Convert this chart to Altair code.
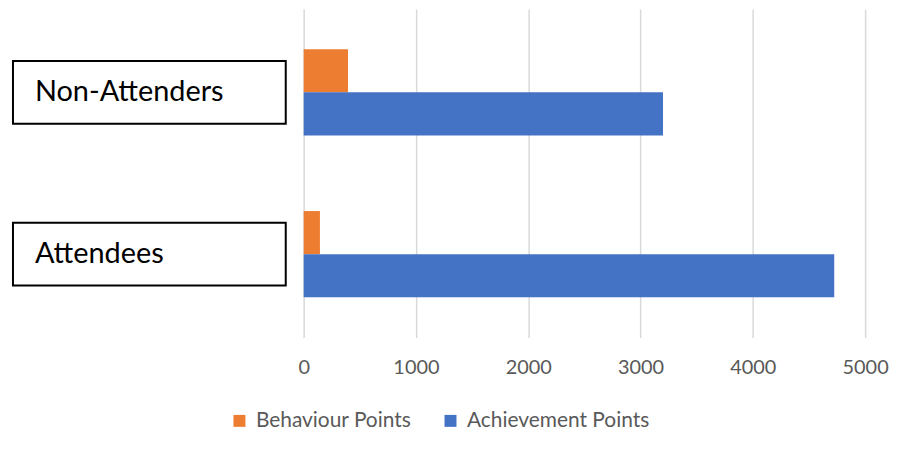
import altair as alt
import pandas as pd

groups = ["Non-Attenders", "Attendees"]
series = ["Behaviour Points", "Achievement Points"]
behaviour = [395, 145]
achievement = [3200, 4725]
colors = ["#ED7D31", "#4472C4"]
x_ticks = [0, 1000, 2000, 3000, 4000, 5000]

rows = []
for g, b, a in zip(groups, behaviour, achievement):
    rows.append({"group": g, "series": series[0], "value": b})
    rows.append({"group": g, "series": series[1], "value": a})
df = pd.DataFrame(rows)
labels_df = pd.DataFrame({"group": groups})

yscale = alt.Scale(domain=groups, paddingInner=0.467, paddingOuter=0.248)

bars = alt.Chart(df).mark_bar().encode(
    x=alt.X("value:Q", scale=alt.Scale(domain=[0, 5000], nice=False),
            axis=alt.Axis(values=x_ticks, title=None, domain=False, ticks=False,
                          grid=True, gridColor="#d9d9d9", gridWidth=1.5,
                          labelFont="Lato", labelFontSize=20, labelColor="#595959",
                          labelPadding=20, format="d", labelFlush=False)),
    y=alt.Y("group:N", scale=yscale, axis=None, sort=groups),
    yOffset=alt.YOffset("series:N", sort=series,
                        scale=alt.Scale(domain=series, paddingInner=0, paddingOuter=0)),
    color=alt.Color("series:N", sort=series,
                    scale=alt.Scale(domain=series, range=colors),
                    legend=alt.Legend(orient="none", legendX=-75, legendY=403,
                                      direction="horizontal", title=None,
                                      symbolType="square", symbolSize=144,
                                      symbolStrokeWidth=0, labelFont="Lato",
                                      labelFontSize=21, labelColor="#595959",
                                      labelOffset=6, columnPadding=28, labelLimit=0)),
)

boxes = alt.Chart(labels_df).mark_rect(fill="white", stroke="black", strokeWidth=2, height=63).encode(
    y=alt.Y("group:N", scale=yscale, sort=groups, axis=None),
    x=alt.value(-292), x2=alt.value(-18),
)

texts = alt.Chart(labels_df).mark_text(align="left", baseline="middle", font="Lato",
                                        fontSize=29, color="black").encode(
    y=alt.Y("group:N", scale=yscale, sort=groups, axis=None),
    x=alt.value(-270),
    text="group:N",
)

chart = alt.layer(bars, boxes, texts).properties(
    width=564, height=330,
    autosize=alt.AutoSizeParams(type="none"),
    padding={"left": 297, "top": 0, "right": 27, "bottom": 110},
).configure_view(strokeWidth=0)

chart.save("out.html", embed_options={"renderer": "svg", "actions": False})
